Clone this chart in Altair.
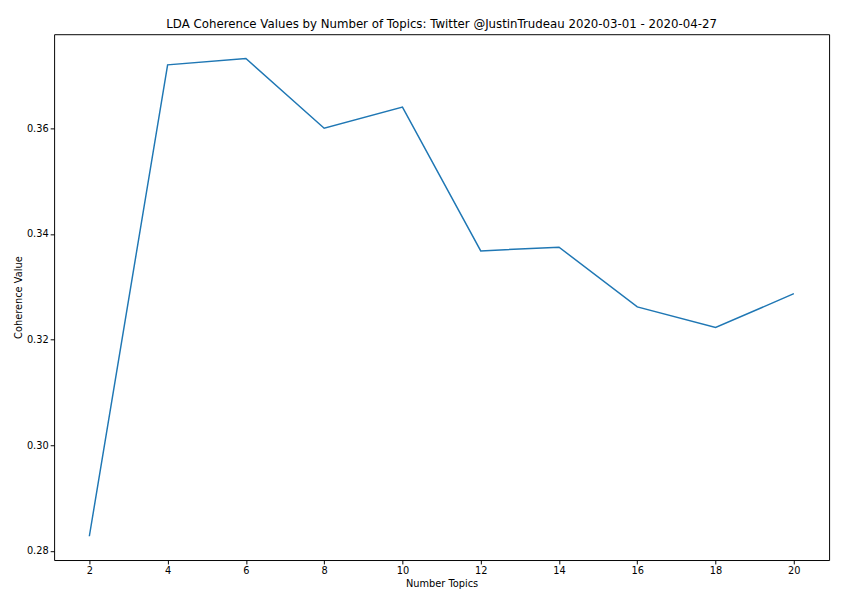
import altair as alt
import pandas as pd

topics = [2, 4, 6, 8, 10, 12, 14, 16, 18, 20]
coherence = [0.2828, 0.3720, 0.3732, 0.3600, 0.3640, 0.3368, 0.3375, 0.3262, 0.3223, 0.3287]
x_ticks = [2, 4, 6, 8, 10, 12, 14, 16, 18, 20]
y_ticks = [0.28, 0.30, 0.32, 0.34, 0.36]

df = pd.DataFrame({'topics': topics, 'coherence': coherence})

chart = alt.Chart(df).mark_line(color='#1f77b4', strokeWidth=1.5, clip=True).encode(
    x=alt.X('topics:Q',
            scale=alt.Scale(domain=[1.1, 20.9], nice=False, zero=False),
            axis=alt.Axis(title='Number Topics', values=x_ticks, format='d')),
    y=alt.Y('coherence:Q',
            scale=alt.Scale(domain=[0.2783, 0.3778], nice=False, zero=False),
            axis=alt.Axis(title='Coherence Value', values=y_ticks, format='.2f'))
).properties(
    width=790,
    height=536,
    title='LDA Coherence Values by Number of Topics: Twitter @JustinTrudeau 2020-03-01 - 2020-04-27'
).configure_axis(
    grid=False, domain=False, tickColor='black', tickSize=4, labelColor='black',
    labelFont='DejaVu Sans', labelFontSize=10, titleFont='DejaVu Sans',
    titleFontSize=10, titleFontWeight='normal', titleColor='black', titlePadding=3
).configure_view(
    stroke='black', strokeWidth=1
).configure_title(
    font='DejaVu Sans', fontSize=12, fontWeight='normal', color='black', offset=3
)

chart.save("out.html", embed_options={"renderer": "svg", "actions": False})
